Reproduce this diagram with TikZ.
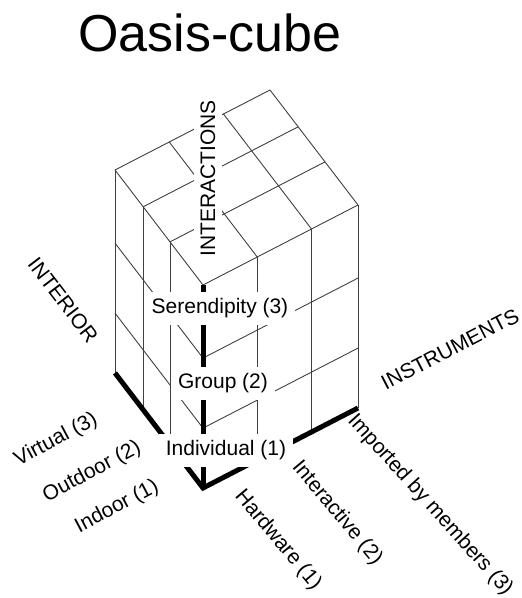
\documentclass[tikz,border=0pt]{standalone}
\usepackage{fontspec}
\setmainfont{Liberation Sans}

\begin{document}
\begin{tikzpicture}[
		x=1pt,
		y=1pt,
		line cap=butt,
		gridline/.style={black!75,line width=0.9pt},
		axisline/.style={black,line width=5pt},
		levellabel/.style={font=\fontsize{21}{25}\selectfont,fill=white,inner sep=7pt},
		sidelabel/.style={font=\fontsize{21}{25}\selectfont,inner sep=1pt},
		maintitle/.style={font=\fontsize{52}{60}\selectfont}
	]
	\useasboundingbox (0,0) rectangle (522,598);
	
	% Cube in oblique axes: x to the right, y to the left, z up
	\begin{scope}[shift={(203,110)},x={(155pt,80pt)},y={(-88pt,115pt)},z={(0pt,203pt)}]
		\coordinate (front) at (0,0,0);
		\coordinate (left)  at (0,1,0);
		\coordinate (right) at (1,0,0);
		\coordinate (top)   at (0,0,1);
		
		% Right face
		\foreach \a in {0.35,0.70,1}
		\draw[gridline] (\a,0,0) -- (\a,0,1);
		\foreach \c in {0.295,0.64,1}
		\draw[gridline] (0,0,\c) -- (1,0,\c);
		
		% Left face
		\foreach \b in {0.375,0.68,1}
		\draw[gridline] (0,\b,0) -- (0,\b,1);
		\foreach \c in {0.295,0.64,1}
		\draw[gridline] (0,0,\c) -- (0,1,\c);
		
		% Top face
		\foreach \a in {0.35,0.70,1}
		\draw[gridline] (\a,0,1) -- (\a,1,1);
		\foreach \b in {0.375,0.68,1}
		\draw[gridline] (0,\b,1) -- (1,\b,1);
	\end{scope}
	
	% Thick axes
	\draw[axisline] (left) -- (front) -- (right);
	\draw[axisline] (top) -- (front);
	
	% Title
	\node[maintitle] (title) at (210,565) {Oasis-cube};
	
	% Interactions levels
	\node[levellabel,rotate=90] (interactions) at (208,419.5) {INTERACTIONS};
	\node[levellabel] (serendipity) at (220,289.5) {Serendipity (3)};
	\node[levellabel] (group)       at (223,214.5) {Group (2)};
	\node[levellabel] (individual)  at (226,147.5) {Individual (1)};
	
	% Interior levels
	\node[sidelabel,rotate=-52.6] (interior) at (63,298) {INTERIOR};
	\node[sidelabel,rotate=28] (virtual) at (56,158) {Virtual (3)};
	\node[sidelabel,rotate=28] (outdoor) at (92,126) {Outdoor (2)};
	\node[sidelabel,rotate=28] (indoor)  at (117,91) {Indoor (1)};
	
	% Instrument levels
	\node[sidelabel,rotate=27.3] (instruments) at (450,249) {INSTRUMENTS};
	\node[sidelabel,rotate=-50] (hardware)    at (278,58) {Hardware (1)};
	\node[sidelabel,rotate=-50] (interactive) at (337,85) {Interactive (2)};
	\node[sidelabel,rotate=-48] (imported)    at (430,93) {Imported by members (3)};
	
\end{tikzpicture}
\end{document}
